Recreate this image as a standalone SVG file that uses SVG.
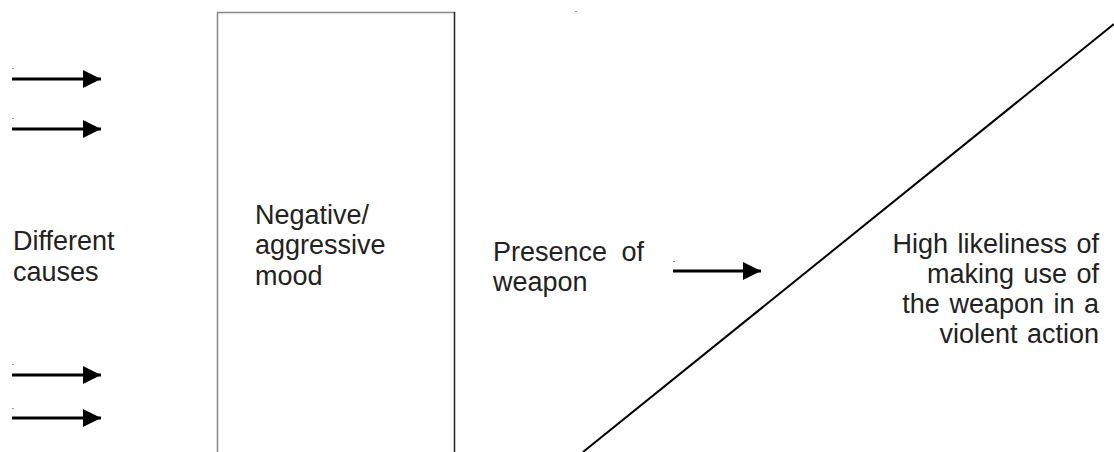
<svg xmlns="http://www.w3.org/2000/svg" width="1114" height="452" viewBox="0 0 1114 452">
<style>
.t{font-family:"Liberation Sans",Arial,sans-serif;font-size:27px;fill:#222;word-spacing:2px}
.ln{stroke:#000;stroke-width:3;fill:none}
.dot{fill:#999}
</style>
<defs>
<marker id="ah" markerWidth="6" markerHeight="6" refX="6" refY="3" orient="auto" markerUnits="strokeWidth">
<path d="M0,0 L6,3 L0,6 Z" fill="#000"/>
</marker>
</defs>
<rect width="1114" height="452" fill="#fff"/>
<g id="causes">
<text class="t" x="13" y="250">Different</text>
<text class="t" x="13" y="281">causes</text>
</g>
<g id="mood">
<path d="M217.5,452 V12.5 H454.5" fill="none" stroke="#888" stroke-width="1.5"/>
<path d="M454.5,12 V452" stroke="#222" stroke-width="1.5"/>
<text class="t" x="255" y="224">Negative/</text>
<text class="t" x="255" y="254">aggressive</text>
<text class="t" x="255" y="285">mood</text>
</g>
<g id="weapon">
<text class="t" x="493" y="261" style="word-spacing:7px">Presence of</text>
<text class="t" x="493" y="291">weapon</text>
</g>
<g id="outcome">
<text class="t" x="1099" y="253" text-anchor="end">High likeliness of</text>
<text class="t" x="1099" y="283" text-anchor="end">making use of</text>
<text class="t" x="1099" y="313" text-anchor="end">the weapon in a</text>
<text class="t" x="1099" y="343" text-anchor="end">violent action</text>
</g>
<g id="connectors">
<line class="ln" x1="12" y1="79" x2="101" y2="79" marker-end="url(#ah)"/>
<line class="ln" x1="12" y1="129" x2="101" y2="129" marker-end="url(#ah)"/>
<line class="ln" x1="12" y1="375" x2="101" y2="375" marker-end="url(#ah)"/>
<line class="ln" x1="12" y1="418" x2="101" y2="418" marker-end="url(#ah)"/>
<line class="ln" x1="673" y1="271" x2="761" y2="271" marker-end="url(#ah)"/>
<line x1="583" y1="452" x2="1114" y2="24" stroke="#000" stroke-width="2"/>
</g>
<rect class="dot" x="12" y="68" width="2" height="1"/>
<rect class="dot" x="12" y="118" width="2" height="1"/>
<rect class="dot" x="12" y="364" width="2" height="1"/>
<rect class="dot" x="12" y="408" width="2" height="1"/>
<rect class="dot" x="673" y="261" width="2" height="1"/>
<rect class="dot" x="575" y="11" width="2" height="1"/>
</svg>
